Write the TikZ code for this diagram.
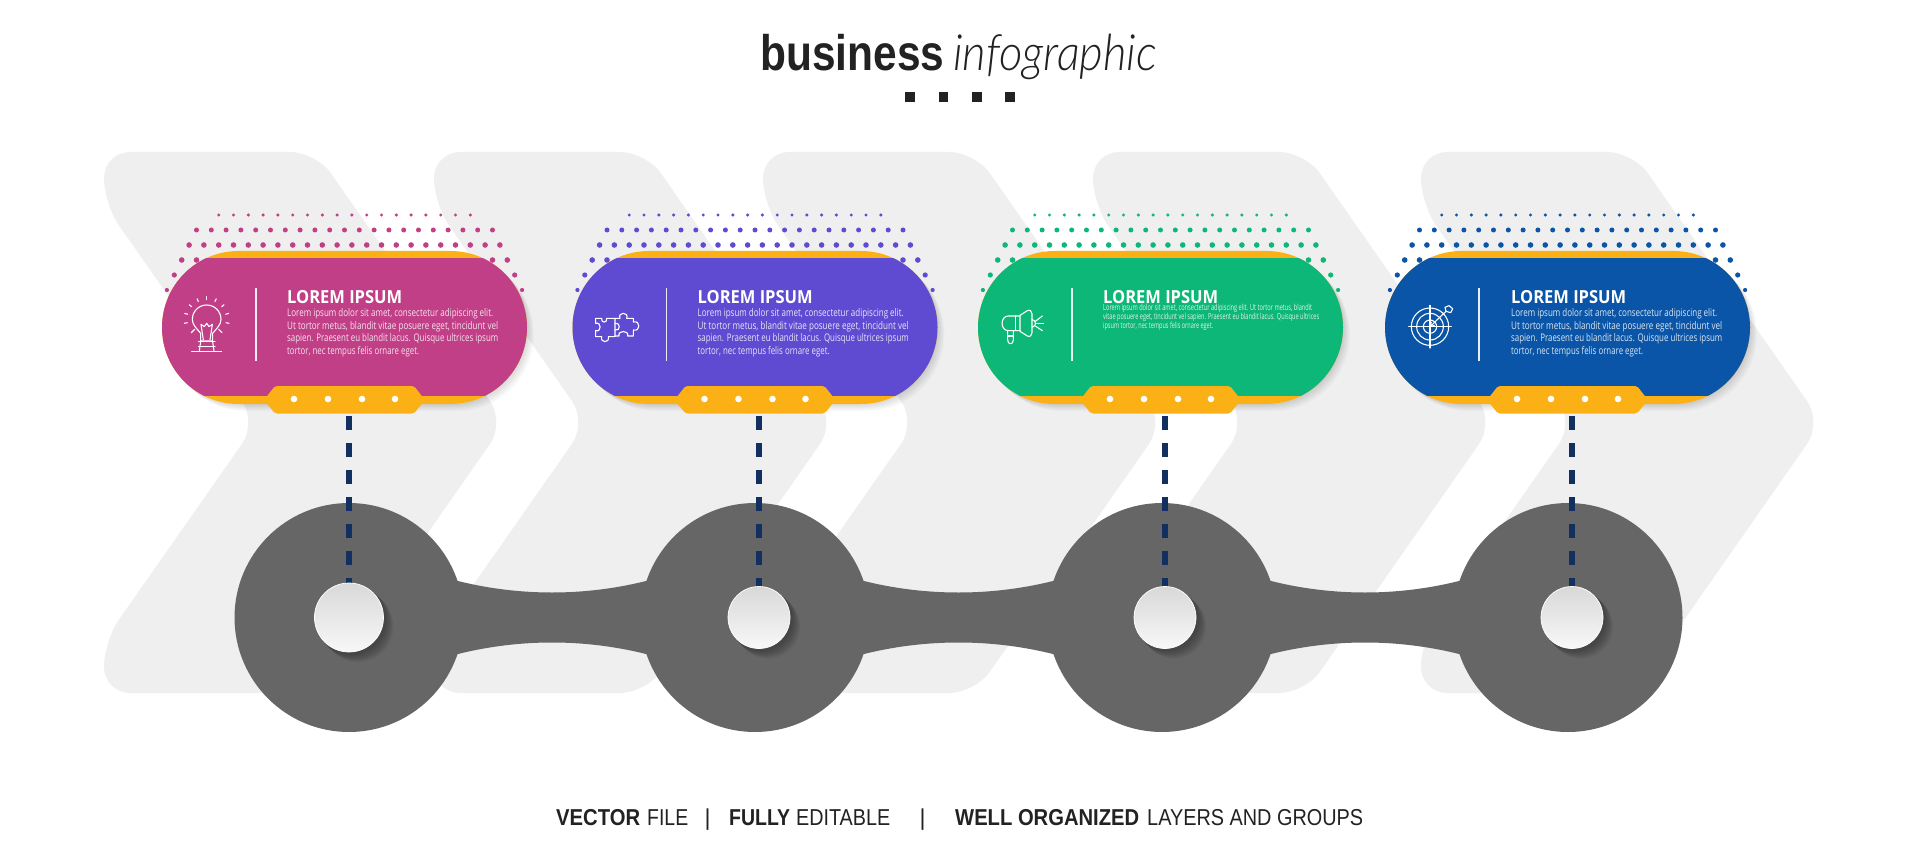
\documentclass[tikz,border=0pt]{standalone}
\usepackage{fontspec}
\setmainfont{Open Sans}
\newfontfamily\heavyf{Liberation Sans}
\newfontfamily\lightf{Lato Light}
\usetikzlibrary{calc}
\definecolor{chev}{HTML}{EFEFEF}
\definecolor{hubgrey}{HTML}{666666}
\definecolor{amber}{HTML}{FBB116}
\definecolor{ink}{HTML}{222222}
\definecolor{dashblue}{HTML}{12305F}
\definecolor{cA}{HTML}{C13F86}
\definecolor{cB}{HTML}{5E4BD1}
\definecolor{cC}{HTML}{0DB777}
\definecolor{cD}{HTML}{0A55A7}
\newcommand{\fitw}[2]{\resizebox{#1pt}{\height}{#2}}
\tikzset{
  chevron/.style={fill=chev,rounded corners=26pt},
  hub/.style={circle,fill=hubgrey,minimum size=229pt,inner sep=0pt},
  pin/.style={circle,draw=white,line width=.7pt,top color=gray!30,bottom color=gray!6,inner sep=0pt},
  dashline/.style={draw=dashblue,line width=5.5pt,dash pattern=on 14pt off 13pt},
  icon/.style={draw=white,line width=1.1pt,line cap=round,line join=round},
  headtxt/.style={anchor=base west,inner sep=0pt,text=white,font=\bfseries\fontsize{18}{18}\selectfont},
  bodytxt/.style={anchor=base west,inner sep=0pt,text=white,opacity=.85,font=\fontsize{10.5}{10.5}\selectfont},
  smalltxt/.style={anchor=base west,inner sep=0pt,text=white,opacity=.85,font=\fontsize{8.4}{8.4}\selectfont},
  foottxt/.style={anchor=base west,inner sep=0pt,text=ink,font=\heavyf\fontsize{23}{23}\selectfont},
}
% #1 left edge of card, #2 colour
\newcommand{\cardpath}[3]{({#1+76.5+#3},{251+#3}) arc[start angle=-90,end angle=-270,radius=76.5]
       -- ++(212,0) arc[start angle=90,end angle=-90,radius=76.5] -- cycle}
\newcommand{\cardshape}[2]{%
  \foreach \k in {-9,...,8} \fill[#2] ({#1+182.5+(\k+.5)*14.8},215) circle (1.7pt);
  \foreach \k in {-10,...,10} \fill[#2] ({#1+182.5+\k*14.8},230) circle (2.5pt);
  \foreach \k in {-11,...,10} \fill[#2] ({#1+182.5+(\k+.5)*14.8},245) circle (2.8pt);
  \foreach \k in {-11,-10,10,11} \fill[#2] ({#1+182.5+\k*14.8},260) circle (2.8pt);
  \foreach \k in {-11.5,11.5} \fill[#2] ({#1+182.5+\k*14.8},275) circle (2.6pt);
  \foreach \k in {-12,12} \fill[#2] ({#1+182.5+\k*14.8},290) circle (2.1pt);
  \foreach \d in {2,4,...,14}
    \fill[black,opacity=.018] \cardpath{#1}{#2}{\d*.5};
  \fill[amber] \cardpath{#1}{#2}{0};
  \begin{scope}
    \clip ({#1-5},259) rectangle ({#1+375},395);
    \fill[#2] \cardpath{#1}{#2}{0};
  \end{scope}
  \fill[amber,rounded corners=2pt] ({#1+102},400) -- ({#1+113},386) -- ({#1+252},386)
     -- ({#1+263},400) -- ({#1+252},413.5) -- ({#1+113},413.5) -- cycle;
  \foreach \dx in {132,166,200,233} \fill[white] ({#1+\dx},399) circle (3.3pt);
  \draw[white,line width=1.4pt,opacity=.9] ({#1+94},288) -- ({#1+94},361);
}
\begin{document}
\begin{tikzpicture}[x=1pt,y=-1pt]
\useasboundingbox (0,0) rectangle (1920,845);
\fill[white] (0,0) rectangle (1920,845);
\foreach \xo in {104,434,763,1093,1421}
  \fill[chevron] (\xo,152) -- ({\xo+212},152) -- ({\xo+401},422.5) -- ({\xo+212},693)
     -- (\xo,693) -- (\xo,641) -- ({\xo+153},422.5) -- (\xo,204) -- cycle;

\node[anchor=base west,inner sep=0pt,text=ink] (ttlA) at (760,71) {\fitw{184}{\heavyf\bfseries\fontsize{50}{50}\selectfont business}};
\node[anchor=base west,inner sep=0pt,text=ink] (ttlB) at (953,71) {\fitw{204}{\lightf\itshape\fontsize{50}{50}\selectfont infographic}};
\foreach \sx in {905,938.5,972,1005}
  \fill[ink] (\sx,92) rectangle ({\sx+9.5},102);

\cardshape{162}{cA}
\cardshape{572.5}{cB}
\cardshape{978}{cC}
\cardshape{1385}{cD}

\node[headtxt] (hA) at (287,303) {\fitw{115}{LOREM IPSUM}};
\node[bodytxt] (a1) at (287,316.7) {\fitw{206}{Lorem ipsum dolor sit amet, consectetur adipiscing elit.}};
\node[bodytxt] (a2) at (287,329.2) {\fitw{211}{Ut tortor metus, blandit vitae posuere eget, tincidunt vel}};
\node[bodytxt] (a3) at (287,341.7) {\fitw{211}{sapien. Praesent eu blandit lacus. Quisque ultrices ipsum}};
\node[bodytxt] (a4) at (287,354.2) {\fitw{132}{tortor, nec tempus felis ornare eget.}};

\node[headtxt] (hB) at (697.5,303) {\fitw{115}{LOREM IPSUM}};
\node[bodytxt] (b1) at (697.5,316.7) {\fitw{206}{Lorem ipsum dolor sit amet, consectetur adipiscing elit.}};
\node[bodytxt] (b2) at (697.5,329.2) {\fitw{211}{Ut tortor metus, blandit vitae posuere eget, tincidunt vel}};
\node[bodytxt] (b3) at (697.5,341.7) {\fitw{211}{sapien. Praesent eu blandit lacus. Quisque ultrices ipsum}};
\node[bodytxt] (b4) at (697.5,354.2) {\fitw{132}{tortor, nec tempus felis ornare eget.}};

\node[headtxt] (hC) at (1103,303) {\fitw{115}{LOREM IPSUM}};
\node[smalltxt] (c1) at (1103,310.5) {\fitw{209}{Lorem ipsum dolor sit amet, consectetur adipiscing elit. Ut tortor metus, blandit}};
\node[smalltxt] (c2) at (1103,319.3) {\fitw{216}{vitae posuere eget, tincidunt vel sapien. Praesent eu blandit lacus. Quisque ultrices}};
\node[smalltxt] (c3) at (1103,328) {\fitw{110}{ipsum tortor, nec tempus felis ornare eget.}};

\node[headtxt] (hD) at (1511,303) {\fitw{115}{LOREM IPSUM}};
\node[bodytxt] (d1) at (1511,316.7) {\fitw{206}{Lorem ipsum dolor sit amet, consectetur adipiscing elit.}};
\node[bodytxt] (d2) at (1511,329.2) {\fitw{211}{Ut tortor metus, blandit vitae posuere eget, tincidunt vel}};
\node[bodytxt] (d3) at (1511,341.7) {\fitw{211}{sapien. Praesent eu blandit lacus. Quisque ultrices ipsum}};
\node[bodytxt] (d4) at (1511,354.2) {\fitw{132}{tortor, nec tempus felis ornare eget.}};

\node[hub] (hub1) at (349,617.5) {};
\node[hub] (hub2) at (755,617.5) {};
\node[hub] (hub3) at (1162,617.5) {};
\node[hub] (hub4) at (1568,617.5) {};
\foreach \pa/\pb in {hub1/hub2,hub2/hub3,hub3/hub4}
  \fill[hubgrey] ($(\pa)+(95,-37)$) -- ($(\pa)+(107,-37)$)
      .. controls ($(\pa)+(170,-21)$) and ($(\pb)+(-170,-21)$) .. ($(\pb)+(-107,-37)$)
      -- ($(\pb)+(-95,-37)$) -- ($(\pb)+(-95,37)$) -- ($(\pb)+(-107,37)$)
      .. controls ($(\pb)+(-170,21)$) and ($(\pa)+(170,21)$) .. ($(\pa)+(107,37)$)
      -- ($(\pa)+(95,37)$) -- cycle;

\coordinate (tabA) at (349,416);
\coordinate (tabB) at (759,416);
\coordinate (tabC) at (1165,416);
\coordinate (tabD) at (1572,416);
\coordinate (pinA) at (349,617.5);
\coordinate (pinB) at (759,617.5);
\coordinate (pinC) at (1165,617.5);
\coordinate (pinD) at (1572,617.5);
\foreach \pa/\pb/\rr in {pinA/tabA/34.5,pinB/tabB/31,pinC/tabC/31,pinD/tabD/31}{
  \foreach \d in {1,2,...,9}
    \fill[black,opacity=.035] ($(\pa)+({1+\d*.9},{1+\d*.9})$) circle ({\rr+1});
  \draw[dashline] (\pb) -- (\pa);
  \node[pin,minimum size=2*\rr pt] at (\pa) {};
}

\begin{scope}[shift={(170,280)},scale=1/3,icon]
  \draw (92,160) .. controls (80,145) and (67,135) .. (67,118) arc[start angle=180,end angle=360,radius=43]
        .. controls (153,135) and (140,145) .. (128,160) -- (128,183) -- (92,183) -- cycle;
  \draw (100,180) -- (93,133) -- (103,140) -- (110,130) -- (117,140) -- (127,133) -- (120,180);
  \draw (85,185) -- (135,185);
  \draw (85,200) -- (135,200);
  \draw (92,185) -- (88,213);
  \draw (128,185) -- (132,213);
  \draw (65,215) -- (155,215);
  \foreach \ang in {-90,-65,-40,-15,10,-115,-140,-165,-190}
    \draw ({110+59*cos(\ang)},{118+59*sin(\ang)}) -- ({110+68*cos(\ang)},{118+68*sin(\ang)});
  \draw (146,148) -- (156,158);
  \draw (74,148) -- (64,158);
\end{scope}

\begin{scope}[shift={(580,290)},scale=1/3,icon]
  \draw (47,85) -- (65,85) .. controls (62,100) and (83,100) .. (80,85) -- (105,85) -- (105,140) -- (85,140)
     .. controls (90,160) and (60,160) .. (65,140) -- (47,140) -- (47,122)
     .. controls (65,127) and (65,95) .. (47,100) -- cycle;
  \draw (105,85) -- (120,85) .. controls (112,65) and (148,65) .. (140,85) -- (160,85) -- (160,96)
     .. controls (182,90) and (182,126) .. (160,120) -- (160,138) -- (143,138)
     .. controls (148,120) and (112,120) .. (117,138) -- (105,138);
  \draw (105,100) .. controls (122,95) and (122,125) .. (105,120);
\end{scope}

\begin{scope}[shift={(980,290)},scale=1/3,icon]
  \draw (120,76) -- (142,62) .. controls (150,58) and (156,64) .. (156,72) -- (156,128)
     .. controls (156,136) and (150,142) .. (142,138) -- (120,124) -- cycle;
  \draw (120,78) -- (85,78) .. controls (60,78) and (60,122) .. (85,122) -- (120,122);
  \draw (106,78) -- (106,122);
  \draw (83,122) -- (83,150) .. controls (83,165) and (100,165) .. (100,150) -- (100,122);
  \draw (83,138) -- (100,138);
  \draw (156,88) .. controls (170,92) and (170,108) .. (156,112);
  \draw (166,94) -- (187,78);
  \draw (170,100) -- (191,100);
  \draw (166,108) -- (187,122);
\end{scope}

\begin{scope}[shift={(1390,290)},scale=1/3,icon]
  \draw (120,110) circle (20);
  \draw (120,110) circle (40);
  \draw (120,110) circle (56);
  \draw (120,46) -- (120,174);
  \draw (56,110) -- (184,110);
  \draw (120,110) -- (168,64);
  \draw (120,110) -- (133,106);
  \draw (120,110) -- (124,97);
  \draw (168,64) -- (165,52) -- (177,47) -- (188,56) -- (182,68) -- (168,64);
\end{scope}

\node[foottxt] (fA) at (556,825) {\fitw{84}{\bfseries VECTOR}};
\node[foottxt] (fB) at (647,825) {\fitw{41}{FILE}};
\node[foottxt] (fC) at (729,825) {\fitw{61}{\bfseries FULLY}};
\node[foottxt] (fD) at (796,825) {\fitw{94}{EDITABLE}};
\node[foottxt] (fE) at (955,825) {\fitw{184}{\bfseries WELL ORGANIZED}};
\node[foottxt] (fF) at (1147,825) {\fitw{216}{LAYERS AND GROUPS}};
\node[foottxt] (fG) at (704.5,825) {|};
\node[foottxt] (fH) at (919.5,825) {|};
\end{tikzpicture}
\end{document}
